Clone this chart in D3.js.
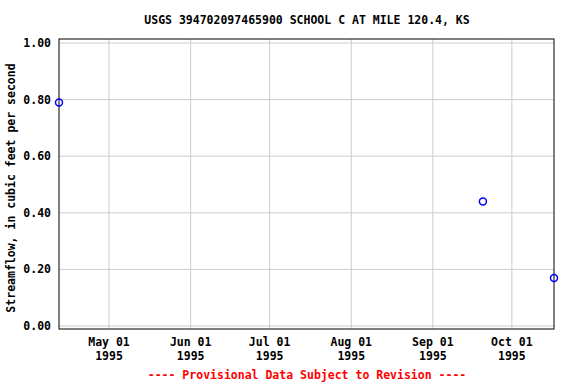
<!DOCTYPE html>
<html>
<head>
<meta charset="utf-8">
<script src="https://cdn.jsdelivr.net/npm/d3@7"></script>
<style>
  body { margin: 0; background: #fff; }
  text { font-family: "DejaVu Sans Mono", monospace; font-weight: bold; }
</style>
</head>
<body>
<div id="chart"></div>
<script>
// daily values
var dates = ["1995-04-12", "1995-09-20", "1995-10-17"];
var flows = [0.79, 0.44, 0.17];
var yTicks = [0, 0.2, 0.4, 0.6, 0.8, 1.0];
var xTicks = ["1995-05-01", "1995-06-01", "1995-07-01", "1995-08-01", "1995-09-01", "1995-10-01"];

var parse = d3.timeParse("%Y-%m-%d");
var data = dates.map(function (d, i) {
  return { date: parse(d), value: flows[i] };
});

var width = 576, height = 384;
var frame = { left: 59, right: 554, top: 39, bottom: 329 };

var svg = d3.select("#chart").append("svg")
  .attr("width", width)
  .attr("height", height);

var x = d3.scaleTime()
  .domain([parse("1995-04-12"), parse("1995-10-17")])
  .range([frame.left, frame.right]);

var y = d3.scaleLinear()
  .domain([0, 1])
  .range([326, 43]);

// grid lines
svg.append("g").selectAll("line.vg")
  .data(xTicks.map(parse))
  .enter().append("line")
  .attr("x1", function (d) { return x(d); })
  .attr("x2", function (d) { return x(d); })
  .attr("y1", frame.top)
  .attr("y2", frame.bottom)
  .attr("stroke", "#cccccc")
  .attr("stroke-width", 1);

svg.append("g").selectAll("line.hg")
  .data(yTicks)
  .enter().append("line")
  .attr("x1", frame.left)
  .attr("x2", frame.right)
  .attr("y1", function (d) { return y(d); })
  .attr("y2", function (d) { return y(d); })
  .attr("stroke", "#cccccc")
  .attr("stroke-width", 1);

// frame
svg.append("rect")
  .attr("x", frame.left)
  .attr("y", frame.top)
  .attr("width", frame.right - frame.left)
  .attr("height", frame.bottom - frame.top)
  .attr("fill", "none")
  .attr("stroke", "#000")
  .attr("stroke-width", 1);

// y tick labels
svg.append("g").selectAll("text")
  .data(yTicks)
  .enter().append("text")
  .attr("x", 51)
  .attr("y", function (d) { return y(d); })
  .attr("dy", "0.35em")
  .attr("text-anchor", "end")
  .style("font-size", "11.5px")
  .text(d3.format(".2f"));

// x tick labels (two lines)
var xl = svg.append("g").selectAll("text")
  .data(xTicks.map(parse))
  .enter().append("text")
  .attr("text-anchor", "middle")
  .style("font-size", "11.5px");
xl.append("tspan")
  .attr("x", function (d) { return x(d); })
  .attr("y", 346)
  .text(d3.timeFormat("%b %d"));
xl.append("tspan")
  .attr("x", function (d) { return x(d); })
  .attr("y", 360)
  .text(d3.timeFormat("%Y"));

// points
svg.append("g").selectAll("circle")
  .data(data)
  .enter().append("circle")
  .attr("cx", function (d) { return x(d.date); })
  .attr("cy", function (d) { return y(d.value); })
  .attr("r", 3.5)
  .attr("fill", "none")
  .attr("stroke", "#0000ff")
  .attr("stroke-width", 1.5);

// title
svg.append("text")
  .attr("x", 307)
  .attr("y", 24)
  .attr("text-anchor", "middle")
  .style("font-size", "11.5px")
  .text("USGS 394702097465900 SCHOOL C AT MILE 120.4, KS");

// y axis label
svg.append("text")
  .attr("transform", "translate(15,188) rotate(-90)")
  .attr("text-anchor", "middle")
  .style("font-size", "11.5px")
  .text("Streamflow, in cubic feet per second");

// footer
svg.append("text")
  .attr("x", 307)
  .attr("y", 379)
  .attr("text-anchor", "middle")
  .attr("fill", "#ff0000")
  .style("font-size", "11.5px")
  .text("---- Provisional Data Subject to Revision ----");
</script>
</body>
</html>
